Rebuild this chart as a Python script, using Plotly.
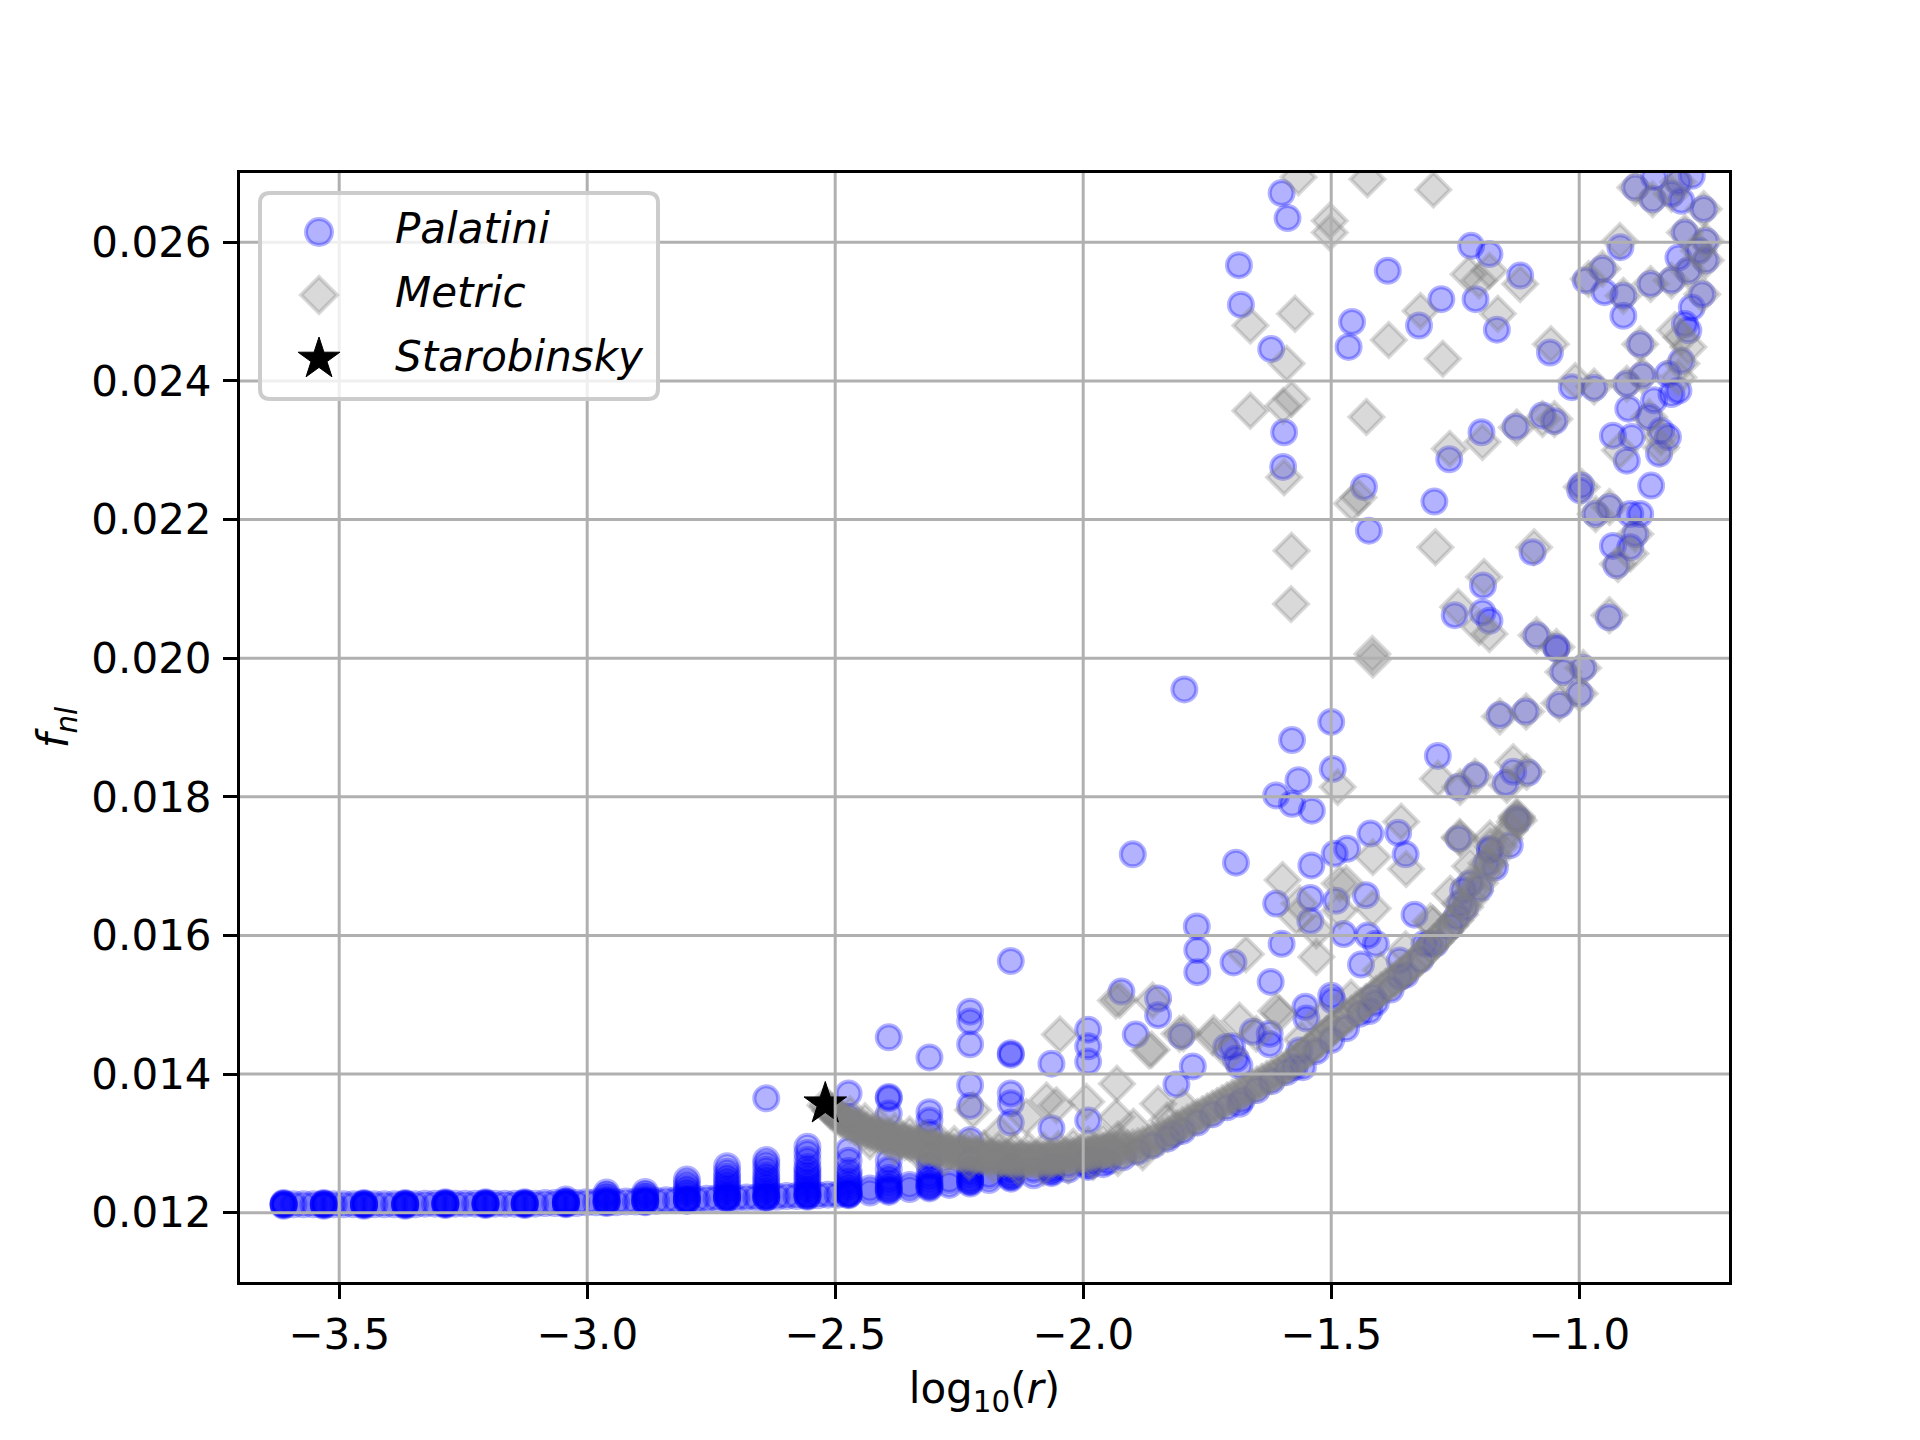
import math
import plotly.graph_objects as go

# ---------------- axes ----------------
x_ticks = [-3.5, -3.0, -2.5, -2.0, -1.5, -1.0]
x_tick_text = ["−3.5", "−3.0", "−2.5", "−2.0", "−1.5", "−1.0"]
y_ticks = [0.012, 0.014, 0.016, 0.018, 0.020, 0.022, 0.024, 0.026]
y_tick_text = ["0.012", "0.014", "0.016", "0.018", "0.020", "0.022", "0.024", "0.026"]
x_range = [-3.70, -0.698]
y_range = [0.011, 0.027]

series_names = ["Palatini", "Metric", "Starobinsky"]

# ---------------- Palatini ----------------
pal_col_x = [-3.612, -3.531, -3.450, -3.367, -3.286, -3.205, -3.126, -3.043, -2.961, -2.883,
             -2.799, -2.718, -2.639, -2.556, -2.473, -2.392, -2.310, -2.228, -2.146, -2.064, -1.990]
pal_col_y = [
    [0.01210, 0.01211, 0.01212, 0.01212, 0.01213, 0.01214],
    [0.01210, 0.01211, 0.01212, 0.01212, 0.01213, 0.01214],
    [0.01210, 0.01211, 0.01212, 0.01212, 0.01213, 0.01214],
    [0.01210, 0.01211, 0.01212, 0.01212, 0.01213, 0.01214],
    [0.01211, 0.01212, 0.01213, 0.01213, 0.01214, 0.01215],
    [0.01211, 0.01212, 0.01213, 0.01213, 0.01214, 0.01215],
    [0.01211, 0.01212, 0.01213, 0.01213, 0.01214, 0.01215],
    [0.01212, 0.01213, 0.01214, 0.01214, 0.01215, 0.01216, 0.01219],
    [0.01214, 0.01215, 0.01216, 0.01216, 0.01218, 0.01222, 0.01225, 0.01229],
    [0.01215, 0.01216, 0.01217, 0.01217, 0.01219, 0.01223, 0.01226, 0.01230],
    [0.01217, 0.01218, 0.01219, 0.01219, 0.01221, 0.01227, 0.01231, 0.01236, 0.01242, 0.01248],
    [0.01220, 0.01221, 0.01222, 0.01222, 0.01224, 0.01228, 0.01232, 0.01237, 0.01242, 0.01247,
     0.01252, 0.01259, 0.01267],
    [0.01221, 0.01222, 0.01223, 0.01223, 0.01226, 0.01230, 0.01234, 0.01239, 0.01244, 0.01249,
     0.01254, 0.01262, 0.01270, 0.01276, 0.01365],
    [0.01223, 0.01224, 0.01225, 0.01225, 0.01228, 0.01232, 0.01236, 0.01241, 0.01246, 0.01251,
     0.01256, 0.01261, 0.01266, 0.01276, 0.01286, 0.01295],
    [0.01225, 0.01226, 0.01227, 0.01227, 0.01230, 0.01234, 0.01238, 0.01243, 0.01248, 0.01254,
     0.01260, 0.01275, 0.01290, 0.01338, 0.01372],
    [0.01230, 0.01232, 0.01234, 0.01236, 0.01240, 0.01245, 0.01250, 0.01262, 0.01275, 0.01343,
     0.01365, 0.01367, 0.01453],
    [0.01235, 0.01237, 0.01239, 0.01241, 0.01245, 0.01250, 0.01255, 0.01268, 0.01280, 0.01315,
     0.01333, 0.01345, 0.01424],
    [0.01242, 0.01244, 0.01246, 0.01248, 0.01252, 0.01257, 0.01262, 0.01275, 0.01305, 0.01354,
     0.01384, 0.01443, 0.01476, 0.01490],
    [0.01249, 0.01251, 0.01253, 0.01255, 0.01260, 0.01265, 0.01270, 0.01330, 0.01358, 0.01372,
     0.01428, 0.01430, 0.01563],
    [0.01257, 0.01259, 0.01262, 0.01265, 0.01270, 0.01322, 0.01415],
    [0.01266, 0.01268, 0.01272, 0.01275, 0.01280, 0.01333, 0.01418, 0.01440, 0.01464],
]
pal_gap_x = [-3.592, -3.572, -3.552, -3.511, -3.491, -3.471, -3.429, -3.409, -3.389,
             -3.347, -3.327, -3.307, -3.266, -3.246, -3.226, -3.186, -3.166, -3.146,
             -3.105, -3.085, -3.065, -3.022, -3.002, -2.982, -2.942, -2.922, -2.902,
             -2.861, -2.841, -2.821, -2.779, -2.759, -2.739, -2.699, -2.679, -2.659,
             -2.618, -2.598, -2.578, -2.535, -2.515, -2.495]
pal_gap_y = [0.01212, 0.01212, 0.01212, 0.01212, 0.01212, 0.01212, 0.01212, 0.01212, 0.01212,
             0.01212, 0.01213, 0.01213, 0.01213, 0.01213, 0.01213, 0.01213, 0.01213, 0.01213,
             0.01213, 0.01214, 0.01214, 0.01214, 0.01215, 0.01215, 0.01215, 0.01216, 0.01216,
             0.01217, 0.01218, 0.01218, 0.01219, 0.01220, 0.01221, 0.01221, 0.01222, 0.01222,
             0.01223, 0.01224, 0.01224, 0.01225, 0.01226, 0.01226]
pal_strip_x = [-2.43, -2.43, -2.35, -2.35, -2.27, -2.27, -2.19, -2.19, -2.10, -2.10,
               -2.03, -2.03, -1.96, -1.96]
pal_strip_y = [0.01229, 0.01235, 0.01234, 0.01240, 0.01240, 0.01247, 0.01247, 0.01254, 0.01254, 0.01262,
               0.01262, 0.01270, 0.01270, 0.01278]

pal_mid_x = [-1.923, -1.849, -1.849, -1.894, -1.771, -1.770, -1.770, -1.802, -1.779, -1.812,
             -1.697, -1.700, -1.796, -1.900, -1.692, -1.500, -1.579, -1.497, -1.566, -1.611,
             -1.579, -1.539, -1.285, -1.160, -1.108, -1.244, -1.210, -1.148, -1.133, -1.103,
             -1.540, -1.493, -1.468, -1.421, -1.365, -1.350, -1.243, -1.611, -1.542, -1.490,
             -1.430, -1.542, -1.332, -1.600, -1.475, -1.426, -1.410, -1.440, -1.622, -1.552,
             -1.550, -1.497, -1.658, -1.624, -1.624, -1.712, -1.692, -1.685]
pal_mid_y = [0.01519, 0.01509, 0.01485, 0.01457, 0.01613, 0.01579, 0.01547, 0.01455, 0.01411, 0.01385,
             0.01561, 0.01440, 0.01955, 0.01717, 0.01705, 0.01908, 0.01882, 0.01840, 0.01824, 0.01802,
             0.01790, 0.01780, 0.01859, 0.01918, 0.01923, 0.01814, 0.01831, 0.01820, 0.01836, 0.01835,
             0.01701, 0.01718, 0.01725, 0.01747, 0.01748, 0.01717, 0.01740, 0.01646, 0.01654, 0.01650,
             0.01658, 0.01621, 0.01630, 0.01588, 0.01602, 0.01600, 0.01588, 0.01558, 0.01533, 0.01497,
             0.01480, 0.01506, 0.01461, 0.01458, 0.01443, 0.01439, 0.01422, 0.01412]

pal_curve_x = [-1.950, -1.920, -1.890, -1.860, -1.830, -1.820, -1.800, -1.770, -1.740, -1.710,
               -1.685, -1.680, -1.650, -1.620, -1.590, -1.574, -1.557, -1.564, -1.530, -1.500,
               -1.500, -1.470, -1.443, -1.423, -1.416, -1.410, -1.380, -1.362, -1.362, -1.350,
               -1.320, -1.312, -1.301, -1.290, -1.260, -1.234, -1.230, -1.200, -1.180, -1.170,
               -1.140, -1.126, -1.124, -1.180, -1.187, -1.220, -1.240, -1.247]
pal_curve_y = [0.01274, 0.01280, 0.01288, 0.01297, 0.01307, 0.01313, 0.01318, 0.01330, 0.01342, 0.01352,
               0.01357, 0.01363, 0.01377, 0.01390, 0.01403, 0.01410, 0.01410, 0.01434, 0.01433, 0.01449,
               0.01513, 0.01466, 0.01487, 0.01491, 0.01511, 0.01503, 0.01522, 0.01540, 0.01564, 0.01543,
               0.01565, 0.01588, 0.01588, 0.01588, 0.01613, 0.01665, 0.01640, 0.01668, 0.01723, 0.01698,
               0.01730, 0.01769, 0.01766, 0.01725, 0.01704, 0.01675, 0.01646, 0.01627]

pal_right_x = [-1.600, -1.588, -1.686, -1.682, -1.621, -1.386, -1.458, -1.465, -1.323, -1.278,
               -1.218, -1.181, -1.209, -1.166, -1.119, -1.059, -1.595, -1.597, -1.434, -1.424,
               -1.292, -1.262, -1.197, -1.128, -1.074, -1.050, -1.015, -0.970, -1.094, -1.194,
               -1.251, -1.195, -1.181, -1.086, -1.046, -0.996, -0.998, -0.967, -0.939, -0.897,
               -0.877, -0.887, -0.932, -0.897, -0.925, -0.940, -0.855, -0.932, -0.894, -0.904,
               -0.839, -0.859, -0.835, -0.821, -0.849, -0.814, -0.800, -0.821, -0.873, -0.904,
               -0.901, -0.877, -0.794, -0.780, -0.787, -0.911, -0.949, -0.911, -0.856, -0.814,
               -0.987, -0.953, -0.917, -0.752, -0.773, -0.745, -0.759, -0.780, -0.800, -0.787,
               -0.745, -0.749, -0.794, -0.814, -0.852, -0.887, -0.773, -0.849, -0.800,
               -1.046, -1.032, -0.992, -0.999, -1.039]
pal_right_y = [0.02671, 0.02635, 0.02567, 0.02510, 0.02446, 0.02559, 0.02485, 0.02449, 0.02480, 0.02518,
               0.02595, 0.02583, 0.02518, 0.02474, 0.02552, 0.02441, 0.02326, 0.02276, 0.02247, 0.02184,
               0.02226, 0.02287, 0.02326, 0.02334, 0.02350, 0.02342, 0.02391, 0.02390, 0.02153, 0.02105,
               0.02062, 0.02066, 0.02054, 0.02033, 0.02016, 0.02249, 0.02242, 0.02208, 0.02218, 0.02208,
               0.02208, 0.02179, 0.02162, 0.02160, 0.02134, 0.02059, 0.02249, 0.02321, 0.02319, 0.02285,
               0.02295, 0.02348, 0.02328, 0.02319, 0.02372, 0.02381, 0.02386, 0.02410, 0.02408, 0.02396,
               0.02360, 0.02453, 0.02429, 0.02473, 0.02482, 0.02494, 0.02528, 0.02523, 0.02540, 0.02545,
               0.02545, 0.02562, 0.02593, 0.02525, 0.02506, 0.02574, 0.02588, 0.02559, 0.02578, 0.02614,
               0.02602, 0.02648, 0.02660, 0.02670, 0.02662, 0.02679, 0.02696, 0.02694, 0.02687,
               0.02014, 0.01980, 0.01986, 0.01949, 0.01933]

# ---------------- Metric ----------------
met_band_x = [-2.52, -2.51, -2.50, -2.49, -2.48, -2.47, -2.46, -2.45, -2.44, -2.43,
              -2.42, -2.41, -2.40, -2.39, -2.38, -2.37, -2.36, -2.35, -2.34, -2.33,
              -2.32, -2.31, -2.30, -2.29, -2.28, -2.27, -2.26, -2.25, -2.24, -2.23,
              -2.22, -2.21, -2.20, -2.19, -2.18, -2.17, -2.16, -2.15, -2.14, -2.13,
              -2.12, -2.11, -2.10, -2.09, -2.08, -2.07, -2.06, -2.05, -2.04, -2.03,
              -2.02, -2.01, -2.00, -1.99, -1.98, -1.97, -1.96, -1.95, -1.94, -1.93,
              -1.92, -1.91, -1.90, -1.89, -1.88, -1.87, -1.86, -1.85, -1.84, -1.83,
              -1.82, -1.81, -1.80, -1.79, -1.78, -1.77, -1.76, -1.75, -1.74, -1.73,
              -1.72, -1.71, -1.70, -1.69, -1.68, -1.67, -1.66, -1.65, -1.64, -1.63,
              -1.62, -1.61, -1.60, -1.59, -1.58, -1.57, -1.56, -1.55, -1.54, -1.53,
              -1.52, -1.51, -1.50, -1.49, -1.48, -1.47, -1.46, -1.45, -1.44, -1.43,
              -1.42, -1.41, -1.40, -1.39, -1.38, -1.37, -1.36, -1.35, -1.34, -1.33,
              -1.32, -1.31, -1.30, -1.29, -1.28, -1.27, -1.26, -1.25, -1.24, -1.23,
              -1.22, -1.21, -1.20, -1.19, -1.18, -1.17, -1.16, -1.15, -1.14, -1.13]
met_band_y = [0.01355, 0.01347, 0.01340, 0.01335, 0.01331, 0.01327, 0.01324, 0.01321, 0.01318, 0.01315,
              0.01313, 0.01311, 0.01309, 0.01307, 0.01305, 0.01303, 0.01302, 0.01300, 0.01299, 0.01297,
              0.01295, 0.01293, 0.01292, 0.01290, 0.01289, 0.01287, 0.01286, 0.01285, 0.01284, 0.01283,
              0.01282, 0.01281, 0.01280, 0.01279, 0.01278, 0.01278, 0.01277, 0.01277, 0.01276, 0.01276,
              0.01276, 0.01276, 0.01276, 0.01276, 0.01276, 0.01277, 0.01277, 0.01278, 0.01279, 0.01280,
              0.01281, 0.01282, 0.01283, 0.01284, 0.01285, 0.01287, 0.01288, 0.01289, 0.01290, 0.01291,
              0.01292, 0.01293, 0.01294, 0.01296, 0.01298, 0.01301, 0.01304, 0.01307, 0.01310, 0.01314,
              0.01318, 0.01322, 0.01326, 0.01330, 0.01334, 0.01338, 0.01342, 0.01346, 0.01350, 0.01354,
              0.01358, 0.01362, 0.01366, 0.01370, 0.01373, 0.01377, 0.01381, 0.01385, 0.01389, 0.01393,
              0.01397, 0.01401, 0.01405, 0.01410, 0.01415, 0.01420, 0.01426, 0.01432, 0.01438, 0.01444,
              0.01451, 0.01457, 0.01464, 0.01470, 0.01476, 0.01482, 0.01487, 0.01493, 0.01498, 0.01504,
              0.01509, 0.01515, 0.01521, 0.01526, 0.01532, 0.01537, 0.01543, 0.01549, 0.01555, 0.01561,
              0.01568, 0.01576, 0.01584, 0.01591, 0.01599, 0.01606, 0.01614, 0.01622, 0.01630, 0.01641,
              0.01652, 0.01664, 0.01676, 0.01689, 0.01702, 0.01715, 0.01728, 0.01740, 0.01752, 0.01764]

# denser part of the band, from the Starobinsky point to the minimum
met_band2_x = [-2.515, -2.505, -2.495, -2.485, -2.475, -2.465, -2.455, -2.445, -2.435, -2.425,
               -2.415, -2.405, -2.395, -2.385, -2.375, -2.365, -2.355, -2.345, -2.335, -2.325,
               -2.315, -2.305, -2.295, -2.285, -2.275, -2.265, -2.255, -2.245, -2.235, -2.225,
               -2.215, -2.205, -2.195, -2.185, -2.175, -2.165, -2.155, -2.145, -2.135, -2.125,
               -2.115, -2.105, -2.095, -2.085, -2.075, -2.065, -2.055, -2.045, -2.035, -2.025,
               -2.015, -2.005, -1.995, -1.985, -1.975, -1.965, -1.955, -1.945, -1.935, -1.925]
met_band2_y = [0.01353, 0.01346, 0.01340, 0.01335, 0.01331, 0.01328, 0.01325, 0.01322, 0.01319, 0.01316,
               0.01314, 0.01312, 0.01310, 0.01308, 0.01306, 0.01305, 0.01303, 0.01302, 0.01300, 0.01298,
               0.01296, 0.01295, 0.01293, 0.01292, 0.01290, 0.01289, 0.01288, 0.01287, 0.01286, 0.01285,
               0.01284, 0.01283, 0.01282, 0.01281, 0.01280, 0.01280, 0.01279, 0.01279, 0.01278, 0.01278,
               0.01278, 0.01278, 0.01278, 0.01278, 0.01279, 0.01279, 0.01280, 0.01281, 0.01282, 0.01283,
               0.01284, 0.01285, 0.01286, 0.01287, 0.01288, 0.01290, 0.01291, 0.01292, 0.01293, 0.01294]

met_mid_x = [-2.47, -2.44, -2.41, -2.38, -2.35, -2.32, -2.29, -2.26, -2.23, -2.20,
             -2.17, -2.14, -2.11, -2.08, -2.05, -2.02, -1.99, -1.96, -1.93,
             -2.43, -2.38, -2.33, -2.28, -2.23, -2.18, -2.13, -2.08, -2.03, -1.98, -1.93, -1.88,
             -2.222, -2.168, -2.115, -2.074, -2.054, -2.047, -1.994, -1.933, -1.932, -1.926,
             -1.899, -1.862, -1.849, -1.831, -1.798, -1.798, -1.737, -1.705, -1.934, -1.860,
             -1.867, -1.806, -1.739, -1.685, -1.651, -1.611, -1.604, -1.672, -1.598, -1.570,
             -1.564, -1.530, -1.530, -1.483, -1.470, -1.483, -1.416, -1.416, -1.349, -1.359,
             -1.487, -1.416, -1.295, -1.285, -1.241, -1.180, -1.133, -1.106, -1.160, -1.107,
             -1.210, -1.240, -1.146, -1.126, -1.126, -1.122, -1.240, -1.187, -1.220, -1.240,
             -1.032, -0.992, -0.999, -1.040,
             -1.56, -1.52, -1.46, -1.40, -1.35, -1.30, -1.26, -1.22, -1.18]
met_mid_y = [0.01342, 0.01332, 0.01325, 0.01318, 0.01313, 0.01308, 0.01303, 0.01299, 0.01296, 0.01293,
             0.01291, 0.01290, 0.01290, 0.01290, 0.01292, 0.01295, 0.01298, 0.01302, 0.01306,
             0.01303, 0.01295, 0.01287, 0.01279, 0.01273, 0.01268, 0.01265, 0.01265, 0.01268, 0.01273, 0.01279, 0.01287,
             0.01348, 0.01314, 0.01338, 0.01362, 0.01355, 0.01457, 0.01360, 0.01338, 0.01386, 0.01507,
             0.01324, 0.01435, 0.01357, 0.01333, 0.01459, 0.01353, 0.01459, 0.01430, 0.01506, 0.01506,
             0.01434, 0.01458, 0.01453, 0.01477, 0.01458, 0.01491, 0.01487, 0.01573, 0.01680, 0.01627,
             0.01646, 0.01607, 0.01569, 0.01675, 0.01675, 0.01636, 0.01639, 0.01713, 0.01696, 0.01764,
             0.01814, 0.01998, 0.01617, 0.01826, 0.01742, 0.01728, 0.01850, 0.01836, 0.01916, 0.01923,
             0.01829, 0.01814, 0.01817, 0.01769, 0.01772, 0.01766, 0.01740, 0.01704, 0.01675, 0.01646,
             0.01980, 0.01986, 0.01949, 0.01935,
             0.01450, 0.01480, 0.01510, 0.01550, 0.01580, 0.01620, 0.01660, 0.01700, 0.01740]

met_right_x = [-1.566, -1.427, -1.294, -1.503, -1.503, -1.573, -1.663, -1.590, -1.384, -1.320,
               -1.275, -1.223, -1.202, -1.181, -1.164, -1.119, -1.057, -1.663, -1.597, -1.580,
               -1.429, -1.595, -1.458, -1.445, -1.261, -1.195, -1.126, -1.074, -1.050, -1.008,
               -0.995, -1.580, -1.581, -1.290, -1.091, -1.192, -1.244, -1.181, -1.202, -1.417,
               -0.939, -0.981, -0.918, -0.835, -0.835, -0.918, -0.807, -0.794, -0.780, -0.794,
               -0.800, -0.897, -0.922, -0.752, -0.745, -0.759, -0.780, -0.745, -0.787, -0.749,
               -0.814, -0.852, -0.887, -0.800, -0.911, -0.877, -0.873, -0.904, -0.859, -0.967,
               -0.939, -0.887, -1.086, -1.046, -0.970, -0.953, -0.814, -0.856]
met_right_y = [0.02694, 0.02691, 0.02676, 0.02631, 0.02614, 0.02497, 0.02480, 0.02425, 0.02459, 0.02501,
               0.02432, 0.02554, 0.02545, 0.02559, 0.02497, 0.02540, 0.02453, 0.02357, 0.02364, 0.02374,
               0.02348, 0.02261, 0.02223, 0.02232, 0.02302, 0.02312, 0.02333, 0.02345, 0.02345, 0.02400,
               0.02247, 0.02155, 0.02078, 0.02160, 0.02160, 0.02117, 0.02074, 0.02035, 0.02045, 0.02006,
               0.02062, 0.02547, 0.02602, 0.02319, 0.02304, 0.02300, 0.02473, 0.02463, 0.02449, 0.02425,
               0.02405, 0.02151, 0.02136, 0.02525, 0.02574, 0.02588, 0.02559, 0.02602, 0.02614, 0.02648,
               0.02670, 0.02662, 0.02679, 0.02687, 0.02523, 0.02453, 0.02408, 0.02396, 0.02348, 0.02208,
               0.02218, 0.02179, 0.02033, 0.02016, 0.02392, 0.02562, 0.02545, 0.02540]

# ---------------- Starobinsky ----------------
star_x = [-2.52]
star_y = [0.01357]

# ---------------- assemble ----------------
pal_x, pal_y = [], []
for cx, ys in zip(pal_col_x, pal_col_y):
    for yv in ys:
        pal_x.append(cx)
        pal_y.append(yv)
pal_x += pal_gap_x + pal_strip_x + pal_mid_x + pal_curve_x + pal_right_x
pal_y += pal_gap_y + pal_strip_y + pal_mid_y + pal_curve_y + pal_right_y

met_x = met_band_x + met_band2_x + met_mid_x + met_right_x
met_y = met_band_y + met_band2_y + met_mid_y + met_right_y

BLUE_A = "rgba(0,0,255,0.3)"
GRAY_A = "rgba(128,128,128,0.3)"

fig = go.Figure()
fig.add_trace(go.Scatter(
    x=pal_x, y=pal_y, mode="markers", name=series_names[0], showlegend=False,
    marker=dict(symbol="circle", size=24, color=BLUE_A, line=dict(color=BLUE_A, width=4)),
))
fig.add_trace(go.Scatter(
    x=met_x, y=met_y, mode="markers", name=series_names[1], showlegend=False,
    marker=dict(symbol="diamond", size=26, color=GRAY_A, line=dict(color=GRAY_A, width=4)),
))
fig.add_trace(go.Scatter(
    x=star_x, y=star_y, mode="markers", name=series_names[2], showlegend=False,
    marker=dict(symbol="star", size=32, color="black", line=dict(color="black", width=1)),
))

shapes = []
GRID = dict(color="#b0b0b0", width=3)
for t in x_ticks:
    shapes.append(dict(type="line", xref="x", yref="paper", x0=t, x1=t, y0=0, y1=1,
                       line=GRID, layer="above"))
for t in y_ticks:
    shapes.append(dict(type="line", xref="paper", yref="y", x0=0, x1=1, y0=t, y1=t,
                       line=GRID, layer="above"))

# legend frame (pixel offsets from the top-left corner of the axes, y up)
L, R, T, B, rad = 20, 418, -20, -226, 10
box_path = (f"M {L+rad},{T} L {R-rad},{T} Q {R},{T} {R},{T-rad} L {R},{B+rad} "
            f"Q {R},{B} {R-rad},{B} L {L+rad},{B} Q {L},{B} {L},{B+rad} L {L},{T-rad} "
            f"Q {L},{T} {L+rad},{T} Z")
pix = dict(xref="paper", yref="paper", xsizemode="pixel", ysizemode="pixel",
           xanchor=0, yanchor=1, layer="above")
shapes.append(dict(type="path", path=box_path, fillcolor="rgba(255,255,255,0.8)",
                   line=dict(color="#cccccc", width=4), **pix))

sym_cx = 79
rows = [-59, -122, -186]
cr = 13
shapes.append(dict(type="circle", x0=sym_cx - cr, x1=sym_cx + cr, y0=rows[0] - cr, y1=rows[0] + cr,
                   fillcolor=BLUE_A, line=dict(color=BLUE_A, width=4), **pix))
dh = 18
dpath = (f"M {sym_cx},{rows[1]+dh} L {sym_cx+dh},{rows[1]} L {sym_cx},{rows[1]-dh} "
         f"L {sym_cx-dh},{rows[1]} Z")
shapes.append(dict(type="path", path=dpath, fillcolor=GRAY_A, line=dict(color=GRAY_A, width=4), **pix))
Ro, Ri = 22, 8.4
pts = []
for k in range(10):
    ang = math.pi / 2 + k * math.pi / 5
    rr = Ro if k % 2 == 0 else Ri
    pts.append((sym_cx + rr * math.cos(ang), rows[2] + rr * math.sin(ang)))
spath = "M " + " L ".join(f"{px:.2f},{py:.2f}" for px, py in pts) + " Z"
shapes.append(dict(type="path", path=spath, fillcolor="black", line=dict(color="black", width=1), **pix))

annotations = []
text_rows = [-55, -119, -183]
for name, ys in zip(series_names, text_rows):
    annotations.append(dict(xref="paper", yref="paper", x=0, y=1, xshift=153, yshift=ys,
                            xanchor="left", yanchor="middle", showarrow=False,
                            text=f"<i>{name}</i>",
                            font=dict(family="DejaVu Sans", size=42, color="black")))

axis_common = dict(showgrid=False, zeroline=False, showline=True, mirror=True,
                   linecolor="black", linewidth=3, ticks="outside", ticklen=14,
                   tickwidth=3, tickcolor="black", layer="above traces",
                   tickfont=dict(family="DejaVu Sans", size=42, color="black"))

fig.update_layout(
    width=1920, height=1440,
    margin=dict(l=240, r=191, t=173, b=158, autoexpand=False),
    plot_bgcolor="white", paper_bgcolor="white",
    font=dict(family="DejaVu Sans", size=42, color="black"),
    showlegend=False,
    shapes=shapes, annotations=annotations,
    xaxis=dict(range=x_range, tickmode="array", tickvals=x_ticks, ticktext=x_tick_text,
               ticklabelstandoff=0,
               title=dict(text="log<sub>10</sub>(<i>r</i>)", standoff=16,
                          font=dict(family="DejaVu Sans", size=42)),
               **axis_common),
    yaxis=dict(range=y_range, tickmode="array", tickvals=y_ticks, ticktext=y_tick_text,
               ticklabelstandoff=3,
               title=dict(text="<i>f</i><sub><i>nl</i></sub>", standoff=10,
                          font=dict(family="DejaVu Sans", size=42)),
               **axis_common),
)

fig.write_html("out.html", config={"displayModeBar": False},
               post_script="document.body.style.margin='0';")
